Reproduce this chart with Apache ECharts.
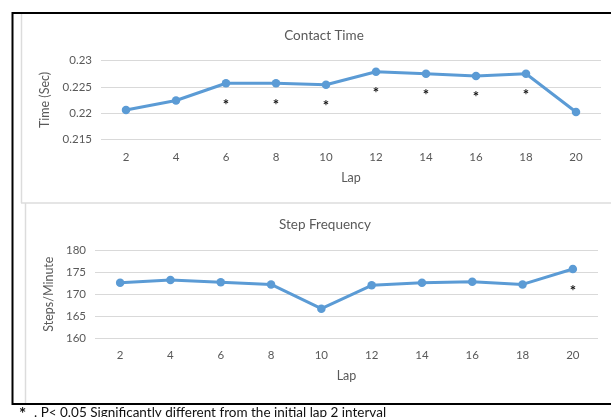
<!DOCTYPE html>
<html>
<head>
<meta charset="utf-8">
<script src="https://cdn.jsdelivr.net/npm/echarts@6/dist/echarts.min.js"></script>
<style>
  html, body { margin: 0; padding: 0; background: #fff; }
  #chart { width: 611px; height: 417px; }
</style>
</head>
<body>
<div id="chart"></div>
<script>
// Lap intervals shared by both panels
const laps = ['2', '4', '6', '8', '10', '12', '14', '16', '18', '20'];

// Ground contact time per lap (seconds)
const contactTime = [0.2206, 0.2224, 0.2257, 0.2257, 0.2254, 0.2279, 0.2275, 0.2271, 0.2275, 0.2202];
// Laps significantly different from lap 2 (contact time)
const contactSigLaps = ['6', '8', '10', '12', '14', '16', '18'];

// Step frequency per lap (steps per minute)
const stepFreq = [172.6, 173.2, 172.7, 172.2, 166.7, 172.0, 172.6, 172.8, 172.2, 175.7];
// Laps significantly different from lap 2 (step frequency)
const stepSigLaps = ['20'];

// Tick values on the value axes
const contactTicks = { min: 0.215, max: 0.23, step: 0.005 };
const stepTicks = { min: 160, max: 180, step: 5 };

const FONT = 'Lato, "Open Sans", sans-serif';
const GREY = '#595959';
const LINE = '#5B9BD5';

function withStars(values, sigLaps) {
  return values.map((v, i) => {
    if (sigLaps.indexOf(laps[i]) === -1) return v;
    return {
      value: v,
      label: {
        show: true, position: 'bottom', distance: 10,
        formatter: '*', color: '#111', fontSize: 15, fontWeight: 'bold', fontFamily: FONT
      }
    };
  });
}

function xAxis(gridIndex, margin, nameGap) {
  return {
    type: 'category', gridIndex, data: laps,
    axisLine: { show: false }, axisTick: { show: false },
    axisLabel: { color: GREY, fontSize: 11.5, fontFamily: FONT, margin },
    name: 'Lap', nameLocation: 'middle', nameGap,
    nameTextStyle: { color: GREY, fontSize: 12.5, fontFamily: FONT }
  };
}

function yAxis(gridIndex, t, name, nameGap, fmt) {
  return {
    type: 'value', gridIndex, min: t.min, max: t.max, interval: t.step,
    axisLine: { show: false }, axisTick: { show: false },
    splitLine: { lineStyle: { color: '#d9d9d9', width: 1 } },
    axisLabel: { color: GREY, fontSize: 11.5, fontFamily: FONT, margin: 9, formatter: fmt },
    name, nameLocation: 'middle', nameGap,
    nameTextStyle: { color: GREY, fontSize: 12.5, fontFamily: FONT }
  };
}

const chart = echarts.init(document.getElementById('chart'), null, { renderer: 'canvas' });

chart.setOption({
  backgroundColor: '#fff',
  animation: false,
  title: [
    { text: 'Contact Time', left: 319, top: 24, textAlign: 'center',
      textStyle: { color: GREY, fontSize: 13.5, fontWeight: 'normal', fontFamily: FONT } },
    { text: 'Step Frequency', left: 320, top: 213, textAlign: 'center',
      textStyle: { color: GREY, fontSize: 13.5, fontWeight: 'normal', fontFamily: FONT } }
  ],
  grid: [
    { left: 101, top: 60.7, width: 500, height: 78.6 },
    { left: 95, top: 250, width: 503, height: 88.3 }
  ],
  xAxis: [xAxis(0, 12, 32), xAxis(1, 11, 31)],
  yAxis: [
    yAxis(0, contactTicks, 'Time (Sec)', 42, v => String(+v.toFixed(3))),
    yAxis(1, stepTicks, 'Steps/Minute', 32, v => String(v))
  ],
  series: [
    {
      type: 'line', xAxisIndex: 0, yAxisIndex: 0,
      data: withStars(contactTime, contactSigLaps),
      symbol: 'circle', symbolSize: 8.5,
      lineStyle: { color: LINE, width: 3 }, itemStyle: { color: LINE }
    },
    {
      type: 'line', xAxisIndex: 1, yAxisIndex: 1,
      data: withStars(stepFreq, stepSigLaps),
      symbol: 'circle', symbolSize: 8.5,
      lineStyle: { color: LINE, width: 3 }, itemStyle: { color: LINE }
    }
  ],
  graphic: [
    // outer frame
    { type: 'line', shape: { x1: 12, y1: 13, x2: 611, y2: 13 }, style: { stroke: '#000', lineWidth: 2 } },
    { type: 'line', shape: { x1: 12.5, y1: 12, x2: 12.5, y2: 405 }, style: { stroke: '#000', lineWidth: 2 } },
    { type: 'line', shape: { x1: 12, y1: 404, x2: 611, y2: 404 }, style: { stroke: '#000', lineWidth: 2 } },
    // panel outlines
    { type: 'line', shape: { x1: 21.5, y1: 14, x2: 21.5, y2: 203 }, style: { stroke: '#dcdcdc', lineWidth: 1.5 } },
    { type: 'line', shape: { x1: 21, y1: 203, x2: 611, y2: 203 }, style: { stroke: '#dcdcdc', lineWidth: 1.5 } },
    { type: 'line', shape: { x1: 25.5, y1: 203, x2: 25.5, y2: 403 }, style: { stroke: '#dcdcdc', lineWidth: 1.5 } },
    // footnote: significance marker, then its explanation
    { type: 'text', left: 19, top: 406,
      style: { text: '*', fill: '#111', fontSize: 17, fontWeight: 'bold', fontFamily: FONT } },
    { type: 'text', left: 34, top: 406,
      style: { text: '. P< 0.05 Significantly different from the initial lap 2 interval',
               fill: '#111', fontSize: 13.5, fontFamily: FONT } }
  ]
});
</script>
</body>
</html>
